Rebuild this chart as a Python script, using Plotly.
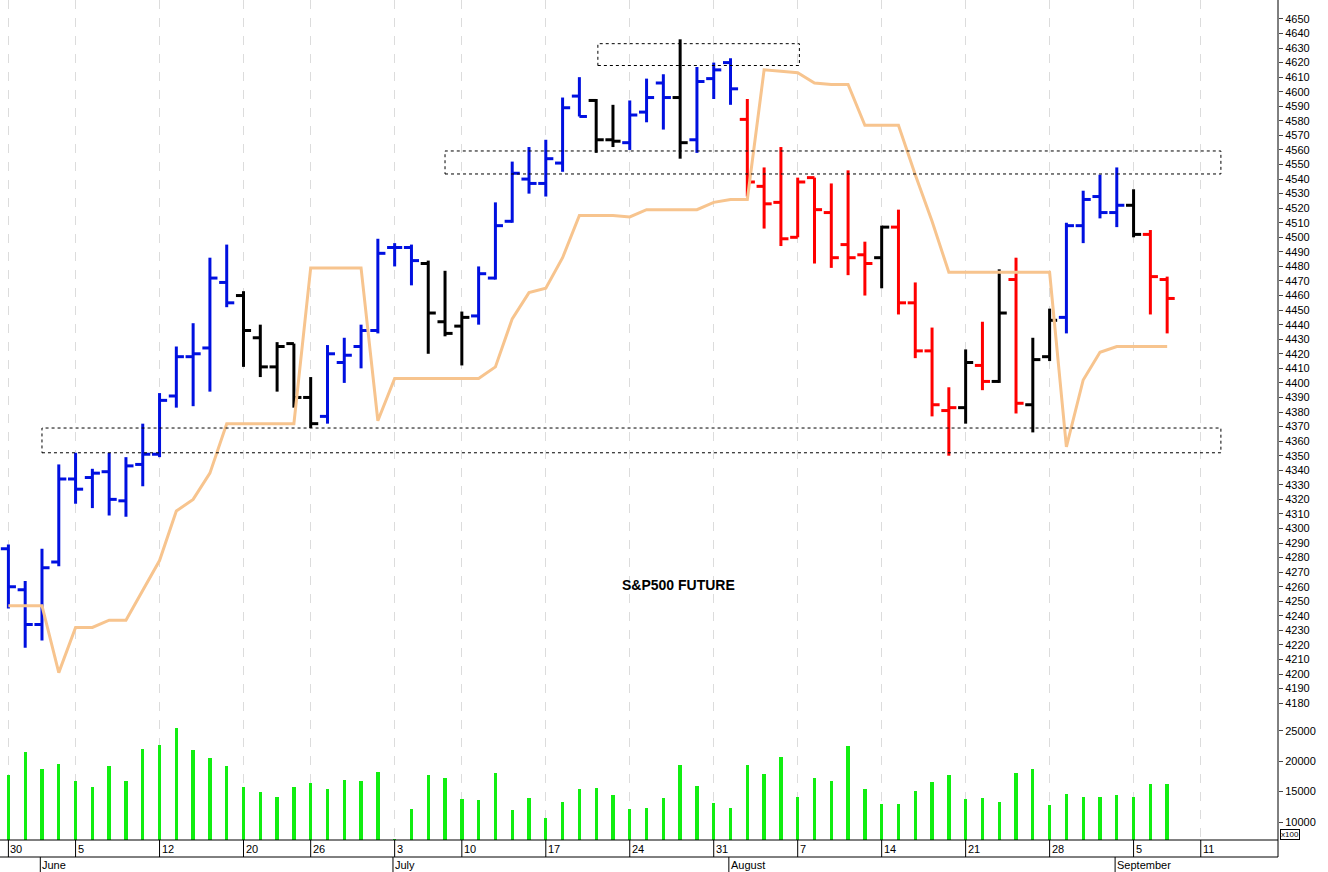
import plotly.graph_objects as go

# ---------------- data ----------------
opens  = [4286,4258,4234,4277,4334,4335,4339,4319,4344,4351,4391,4418,4424,4469,4460,4431,4411,4427,4390,4377,
          4414,4425,4436,4493,4493,4482,4442,4439,4446,4472,4511,4540,4537,4551,4597,4594,4567,4565,4586,4606,
          4596,4567,4609,4620,4581,4535,4524,4500,4541,4517,4495,4488,4486,4507,4455,4422,4381,4383,4412,4401,
          4471,4385,4418,4445,4508,4528,4517,4522,4502,4471]
highs  = [4289,4264,4286,4344,4352,4341,4352,4349,4372,4393,4425,4441,4486,4495,4463,4440,4428,4427,4404,4426,
          4431,4440,4499,4496,4495,4484,4477,4449,4480,4524,4552,4562,4567,4596,4610,4595,4591,4594,4609,4612,
          4636,4617,4620,4623,4595,4548,4562,4541,4541,4537,4546,4497,4508,4519,4469,4438,4397,4423,4442,4478,
          4486,4431,4451,4510,4532,4543,4548,4533,4505,4473]
lows   = [4245,4218,4223,4274,4317,4314,4309,4308,4329,4349,4383,4384,4394,4452,4411,4404,4394,4383,4369,4372,
          4400,4410,4434,4480,4467,4420,4432,4412,4440,4471,4510,4530,4528,4545,4583,4558,4562,4560,4579,4574,
          4554,4558,4595,4591,4528,4506,4494,4500,4482,4479,4474,4460,4465,4447,4417,4377,4350,4372,4395,4400,
          4379,4366,4415,4434,4496,4513,4507,4500,4447,4434]
closes = [4260,4234,4273,4334,4327,4338,4320,4343,4351,4388,4418,4420,4472,4455,4436,4411,4425,4390,4372,4420,
          4419,4436,4489,4493,4484,4448,4434,4445,4475,4508,4544,4537,4554,4589,4583,4567,4566,4584,4596,4596,
          4565,4607,4615,4602,4538,4523,4499,4538,4519,4486,4486,4482,4507,4455,4422,4385,4383,4414,4401,4448,
          4386,4416,4443,4508,4526,4517,4522,4502,4473,4458]
bar_colors = (["blue"]*14 + ["black"]*5 + ["blue"]*6 + ["black"]*3 + ["blue"]*7 + ["black"]*2 + ["blue"]*3 +
              ["black"] + ["blue"]*3 + ["red"]*8 + ["black"] + ["red"]*4 + ["black"] + ["red"] + ["black"] +
              ["red"] + ["black"]*2 + ["blue"]*4 + ["black"] + ["red"]*2)
stop_line = [4247,4247,4247,4201,4232,4232,4237,4237,4258,4278,4312,4320,4338,4372,4372,4372,4372,4372,4479,4479,
             4479,4479,4374,4403,4403,4403,4403,4403,4403,4411,4444,4462,4465,4486,4515,4515,4515,4514,4519,4519,
             4519,4519,4524,4526,4526,4615,4614,4613,4606,4605,4605,4577,4577,4577,4543,4511,4476,4476,4476,4476,
             4476,4476,4476,4356,4402,4421,4425,4425,4425,4425]
volumes = [17700,21500,18800,19600,16700,15700,19200,16700,22000,22700,25500,21800,20500,19200,15700,15000,14200,15800,16500,15500,
           17000,16700,18200,7200,12200,17700,17200,13800,13600,18000,12000,13900,10700,13300,15500,15600,14500,12200,12400,13900,
           19400,15900,13200,12400,19400,17900,20700,14100,17200,16700,22600,15400,13000,13000,15200,16600,17800,13800,13900,13300,
           18000,18800,12800,14600,14100,14100,14400,14100,16300,16200]
day_tick_idx = [0,4,9,14,18,23,27,32,37,42,47,52,57,62,67,71]
day_tick_txt = ["30","5","12","20","26","3","10","17","24","31","7","14","21","28","5","11"]
month_idx = [1.9,22.9,42.9,65.9]
month_txt = ["June","July","August","September"]
# zones: (x0, x1, y0, y1)
zone_x0 = [35.1, 26.0, 2.0]
zone_x1 = [47.1, 72.2, 72.2]
zone_y0 = [4618, 4543.5, 4352]
zone_y1 = [4633, 4559.3, 4369]
price_ticks = list(range(4180, 4651, 10))
vol_ticks = [10000, 15000, 20000, 25000]

COL = {"blue": "#0010e0", "black": "#000000", "red": "#ff0000"}
N = len(opens)
xs = list(range(N))

fig = go.Figure()
for cname, c in COL.items():
    X, Y = [], []
    for i in range(N):
        if bar_colors[i] != cname:
            continue
        X += [i, i, None, i - 0.45, i, None, i, i + 0.45, None]
        Y += [lows[i], highs[i], None, opens[i], opens[i], None, closes[i], closes[i], None]
    fig.add_trace(go.Scatter(x=X, y=Y, mode="lines", line=dict(color=c, width=3),
                             hoverinfo="skip", showlegend=False, yaxis="y"))

fig.add_trace(go.Scatter(x=xs, y=stop_line, mode="lines", line=dict(color="#f7c48e", width=3),
                         showlegend=False, yaxis="y"))
fig.add_trace(go.Bar(x=xs, y=volumes, width=0.2, marker=dict(color="#11ee11", line=dict(width=0)),
                     showlegend=False, yaxis="y2"))

shapes = []
for a, b, c, d in zip(zone_x0, zone_x1, zone_y0, zone_y1):
    shapes.append(dict(type="rect", xref="x", yref="y", x0=a, x1=b, y0=c, y1=d,
                       line=dict(color="black", width=1, dash="dot")))
W, H = 1328, 872
PH = 840.0
shapes.append(dict(type="line", xref="paper", yref="paper", x0=0, x1=1, y0=0, y1=0, line=dict(color="black", width=1)))
shapes.append(dict(type="line", xref="paper", yref="paper", x0=0, x1=1, y0=-17/PH, y1=-17/PH, line=dict(color="black", width=1)))
shapes.append(dict(type="line", xref="paper", yref="paper", x0=1, x1=1, y0=-17/PH, y1=1, line=dict(color="black", width=1)))
ann = []
for i, t in zip(day_tick_idx, day_tick_txt):
    shapes.append(dict(type="line", xref="x", yref="paper", x0=i, x1=i, y0=0, y1=-17/PH, line=dict(color="black", width=1)))
    ann.append(dict(x=i, y=-1/PH, xref="x", yref="paper", text=t, showarrow=False, xanchor="left", yanchor="top",
                    xshift=0, font=dict(size=11, color="black")))
for i, t in zip(month_idx, month_txt):
    shapes.append(dict(type="line", xref="x", yref="paper", x0=i, x1=i, y0=-17/PH, y1=-32/PH, line=dict(color="black", width=1)))
    ann.append(dict(x=i, y=-17/PH, xref="x", yref="paper", text=t, showarrow=False, xanchor="left", yanchor="top",
                    xshift=0, font=dict(size=11, color="black")))
ann.append(dict(x=39.9, y=4261, xref="x", yref="y", text="<b>S&amp;P500 FUTURE</b>", showarrow=False,
                font=dict(size=14, color="black")))
ann.append(dict(x=1, y=0.0, xref="paper", yref="paper", text="x100", showarrow=False, xanchor="left", yanchor="bottom",
                xshift=2, font=dict(size=8, color="black"), bordercolor="black", borderwidth=1, borderpad=0))

fig.update_layout(
    width=W, height=H, margin=dict(l=0, r=50, t=0, b=32, autoexpand=False),
    paper_bgcolor="white", plot_bgcolor="white",
    font=dict(family="Liberation Sans Narrow, Liberation Sans, Arial", size=11, color="black"),
    xaxis=dict(range=[-0.5, 75.6], tickvals=day_tick_idx, showticklabels=False, showgrid=True,
               gridcolor="#dcdcdc", griddash="dash", gridwidth=1, zeroline=False, ticks="", automargin=False),
    yaxis=dict(domain=[0.149, 1], range=[4172, 4663], side="right", tickvals=price_ticks, automargin=False,
               ticks="outside", ticklen=4, showgrid=False, zeroline=False, tickfont=dict(size=11)),
    yaxis2=dict(domain=[0, 0.143], range=[7040, 26800], side="right", tickvals=vol_ticks, automargin=False,
                tickformat="d", ticks="outside", ticklen=4, showgrid=False, zeroline=False, tickfont=dict(size=11)),
    shapes=shapes, annotations=ann, bargap=0,
)
fig.write_html("out.html", config={"displayModeBar": False},
               post_script="document.body.style.margin='0';document.body.style.overflow='hidden';")
